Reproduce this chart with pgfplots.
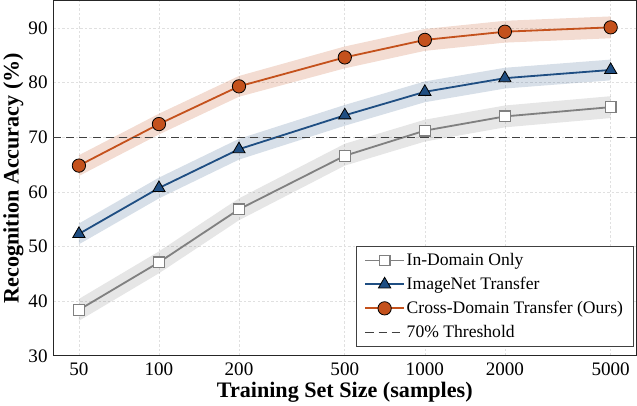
\documentclass[border=0pt]{standalone}
\usepackage{pgfplots}
\pgfplotsset{compat=1.18}
\usepackage{fontspec}
\setmainfont{Liberation Serif}
\definecolor{corange}{HTML}{C4511C}
\definecolor{cblue}{HTML}{1F4E82}
\definecolor{cgray}{HTML}{808080}
\pgfplotsset{mylegend/.style={legend image code/.code={\draw[mark repeat=2,mark phase=2,##1] plot coordinates {(0bp,0bp) (19bp,0bp) (38bp,0bp)};}}}
\begin{document}
\begin{tikzpicture}
\begin{axis}[
  scale only axis, width=578bp, height=352bp,
  xmode=log, xmin=40, xmax=6250, ymin=30, ymax=95,
  xtick={50,100,200,500,1000,2000,5000},
  xticklabels={50,100,200,500,1000,2000,5000},
  xminorticks=false, yminorticks=false,
  ytick={30,40,50,60,70,80,90},
  /pgf/number format/assume math mode=true,
  tick label style={font=\fontsize{19}{21}\selectfont},
  major tick length=0pt,
  xticklabel style={yshift=-3bp},
  yticklabel style={xshift=-2bp},
  grid=major,
  grid style={dash pattern=on 2.5bp off 2bp, color=black!12, line width=0.6bp},
  axis line style={black!85, line width=1.1bp},
  xlabel={\textbf{Training Set Size (samples)}},
  ylabel={\textbf{Recognition Accuracy (\%)}},
  label style={font=\fontsize{22}{24}\selectfont},
  xlabel style={yshift=0bp},
  ylabel style={yshift=-2bp},
  legend style={at={(0.995,0.026)}, anchor=south east, draw=black!75, line width=0.8bp,
     font=\fontsize{17.5}{19}\selectfont, row sep=6bp, inner xsep=8bp, inner ysep=5bp,
     cells={anchor=west}},
]
% bands
\addplot[forget plot, draw=none, fill=cgray, fill opacity=0.2] coordinates {
 (50,40.4) (100,49.1) (200,58.8) (500,68.8) (1000,73.2) (2000,75.8) (5000,77.5)
 (5000,73.5) (2000,71.8) (1000,69.2) (500,64.8) (200,54.8) (100,45.1) (50,36.4)} --cycle;
\addplot[forget plot, draw=none, fill=cblue, fill opacity=0.18] coordinates {
 (50,54.2) (100,62.6) (200,69.7) (500,75.9) (1000,80.2) (2000,82.7) (5000,84.2)
 (5000,80.4) (2000,78.9) (1000,76.4) (500,72.1) (200,65.9) (100,58.8) (50,50.4)} --cycle;
\addplot[forget plot, draw=none, fill=corange, fill opacity=0.2] coordinates {
 (50,66.7) (100,74.3) (200,81.2) (500,86.6) (1000,89.8) (2000,91.3) (5000,92.1)
 (5000,88.1) (2000,87.3) (1000,85.8) (500,82.6) (200,77.4) (100,70.5) (50,62.9)} --cycle;
% lines
\addplot[mylegend, cgray, line width=1.8bp, mark=square*, mark size=5.3bp,
  mark options={fill=white, draw=cgray, line width=1.2bp}] coordinates {
 (50,38.4) (100,47.1) (200,56.8) (500,66.6) (1000,71.2) (2000,73.8) (5000,75.5)};
\addlegendentry{In-Domain Only}
\addplot[mylegend, cblue, line width=1.8bp, mark=triangle*, mark size=7bp,
  mark options={fill=cblue, draw=black, line width=0.8bp}] coordinates {
 (50,52.3) (100,60.7) (200,67.8) (500,74.0) (1000,78.3) (2000,80.8) (5000,82.3)};
\addlegendentry{ImageNet Transfer}
\addplot[mylegend, corange, line width=1.8bp, mark=*, mark size=6.6bp,
  mark options={fill=corange, draw=black, line width=0.8bp}] coordinates {
 (50,64.8) (100,72.4) (200,79.3) (500,84.6) (1000,87.8) (2000,89.3) (5000,90.1)};
\addlegendentry{Cross-Domain Transfer (Ours)}
\addplot[mylegend, black!75, line width=1.3bp, dash pattern=on 8bp off 5bp] coordinates {(40,70) (6250,70)};
\addlegendentry{70\% Threshold}
\end{axis}
\end{tikzpicture}
\end{document}
